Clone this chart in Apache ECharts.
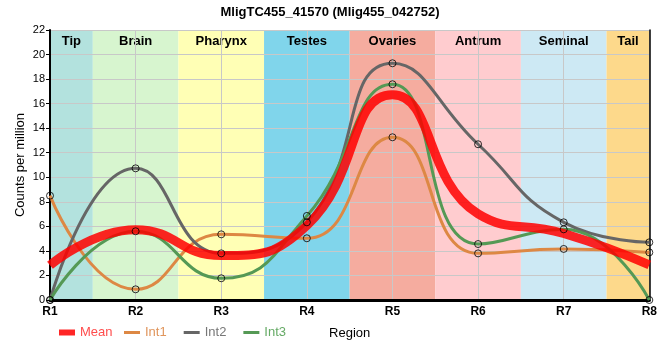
<!DOCTYPE html>
<html><head><meta charset="utf-8">
<script src="https://cdn.jsdelivr.net/npm/echarts@6/dist/echarts.min.js"></script>
<style>html,body{margin:0;padding:0;background:#fff}#c{width:660px;height:360px}</style>
</head><body><div id="c"></div>
<script>
const categories = ['R1','R2','R3','R4','R5','R6','R7','R8'];
const bandNames = ['Tip','Brain','Pharynx','Testes','Ovaries','Antrum','Seminal','Tail'];
const bandColors = ['#b3e2de','#d7f5cf','#ffffb5','#80d5eb','#f5ac9f','#ffcccf','#cde9f4','#fdd98b'];
const mean = [2.83, 5.73, 3.62, 6.07, 16.72, 7.02, 5.42, 2.86];
const int1 = [8.5, 0.87, 5.35, 5.03, 13.26, 3.8, 4.16, 3.88];
const int2 = [0, 10.73, 3.8, 6.33, 19.29, 12.69, 6.33, 4.7];
const int3 = [0, 5.6, 1.77, 6.85, 17.58, 4.56, 5.76, 0];
const yTicks = {min: 0, max: 22, interval: 2};

const n = categories.length;
const bandData = bandNames.map((name, i) => [
  {xAxis: Math.max(0, i - 0.5), yAxis: yTicks.min, name: name, itemStyle: {color: bandColors[i]}},
  {xAxis: Math.min(n - 1, i + 0.5), yAxis: yTicks.max}
]);

const F = 'Liberation Sans, Arial, sans-serif';
function lineS(name, data, color, width, z) {
  return {name, type: 'line', data, smooth: 0.5, showSymbol: false, symbol: 'none', z,
    lineStyle: {color, width}, itemStyle: {color}, emphasis: {disabled: true}};
}
function markS(data) {
  return {type: 'scatter', data, symbol: 'circle', symbolSize: 7, z: 6, silent: true,
    itemStyle: {color: 'rgba(255,255,255,0)', borderColor: '#000', borderWidth: 1}};
}
const chart = echarts.init(document.getElementById('c'), null, {renderer: 'canvas'});
chart.setOption({
  animation: false,
  title: {text: 'MligTC455_41570 (Mlig455_042752)', left: 'center', top: 1,
    textStyle: {fontFamily: F, fontSize: 13, fontWeight: 'bold', color: '#000'}},
  grid: {left: 50, right: 10, top: 30, bottom: 60},
  legend: [
    {data: [{name: 'Mean', icon: 'rect', textStyle: {color: '#ff4d4d'}}], left: 54, top: 321,
      itemWidth: 16, itemHeight: 6, itemGap: 10, textStyle: {fontFamily: F, fontSize: 13}, selectedMode: false},
    {data: [{name: 'Int1', icon: 'rect', textStyle: {color: '#e0955c'}},
            {name: 'Int2', icon: 'rect', textStyle: {color: '#777777'}},
            {name: 'Int3', icon: 'rect', textStyle: {color: '#66aa66'}}],
      left: 119, top: 321, itemWidth: 16, itemHeight: 3, itemGap: 17, textStyle: {fontFamily: F, fontSize: 13}, selectedMode: false}
  ],
  xAxis: [
    {type: 'category', data: categories, boundaryGap: false, name: 'Region', nameLocation: 'middle', nameGap: 27,
      nameTextStyle: {fontFamily: F, fontSize: 13, color: '#000'},
      axisLine: {lineStyle: {color: '#000', width: 3}}, axisTick: {show: false},
      axisLabel: {fontFamily: F, fontSize: 12, fontWeight: 'bold', color: '#000', margin: 6},
      splitLine: {show: true, lineStyle: {color: '#c8c8c8', width: 1}}, z: 2},
    {type: 'value', min: 0, max: n - 1, show: false}
  ],
  yAxis: [
    {type: 'value', min: yTicks.min, max: yTicks.max, interval: yTicks.interval,
      name: 'Counts per million', nameLocation: 'middle', nameGap: 23, nameMoveOverlap: false,
      nameTextStyle: {fontFamily: F, fontSize: 13, color: '#000'},
      axisLine: {show: true, lineStyle: {color: '#000', width: 2}},
      axisTick: {show: true, length: 4, lineStyle: {color: '#000'}},
      axisLabel: {fontFamily: F, fontSize: 11, color: '#000', margin: 5},
      splitLine: {show: true, lineStyle: {color: '#c8c8c8', width: 1}}, z: 2},
    {type: 'value', min: yTicks.min, max: yTicks.max, interval: yTicks.interval, position: 'right',
      axisLine: {show: true, lineStyle: {color: '#000', width: 1.5}}, axisTick: {show: false},
      axisLabel: {show: false}, splitLine: {show: false}, z: 2}
  ],
  series: [
    {type: 'line', xAxisIndex: 1, data: [[0, -100]], symbol: 'none', lineStyle: {opacity: 0}, silent: true, z: 0,
      markArea: {silent: true, z: 0, data: bandData,
        label: {show: true, position: 'insideTop', distance: 5, fontFamily: F, fontSize: 13, fontWeight: 'bold', color: '#000'}}},
    lineS('Int1', int1, '#dd8844', 3, 3),
    lineS('Int2', int2, '#666666', 3, 3),
    lineS('Int3', int3, '#559955', 3, 3),
    lineS('Mean', mean, 'rgba(255,0,0,0.85)', 9, 4),
    markS(int1), markS(int2), markS(int3)
  ]
});
</script></body></html>
